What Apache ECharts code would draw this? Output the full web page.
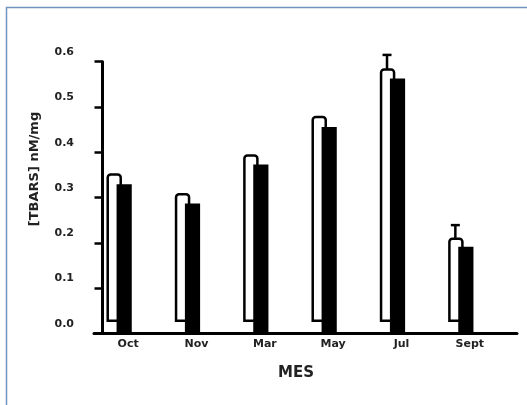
<!DOCTYPE html>
<html>
<head>
<meta charset="utf-8">
<script src="https://cdn.jsdelivr.net/npm/echarts@6/dist/echarts.min.js"></script>
<style>
html,body{margin:0;padding:0;background:#fff;}
#chart{width:527px;height:405px;}
</style>
</head>
<body>
<div id="chart"></div>
<script>
// Data
const months = ['Oct', 'Nov', 'Mar', 'May', 'Jul', 'Sept'];
const whiteValues = [0.351, 0.307, 0.393, 0.478, 0.583, 0.209];
const blackValues = [0.329, 0.287, 0.373, 0.456, 0.563, 0.191];
const whiteErrors = [null, null, null, null, 0.032, 0.030];
const yTickLabels = ['0.0', '0.1', '0.2', '0.3', '0.4', '0.5', '0.6'];

const chart = echarts.init(document.getElementById('chart'));
const FONT = 'DejaVu Sans';

const whiteData = months.map((m, i) => [i, whiteValues[i]]);
const blackData = months.map((m, i) => [i, blackValues[i]]);
const errData = months.map((m, i) => whiteErrors[i] == null ? null : [i, whiteValues[i], whiteValues[i] + whiteErrors[i]]).filter(d => d);

const option = {
  backgroundColor: '#fff',
  animation: false,
  graphic: [{
    type: 'rect',
    shape: { x: 6.5, y: 7.5, width: 1000, height: 1000 },
    style: { fill: 'none', stroke: '#6f94c0', lineWidth: 1.5 },
    silent: true
  }],
  grid: { left: 94, right: 10, top: 61.7, bottom: 71.7 },
  xAxis: {
    type: 'value',
    min: -0.5,
    max: 5.69,
    interval: 0.5,
    splitLine: { show: false },
    axisTick: { show: false },
    axisLine: { onZero: false, lineStyle: { color: '#000', width: 3 } },
    axisLabel: {
      margin: 5,
      fontFamily: FONT, fontWeight: 'bold', fontSize: 11, color: '#222',
      showMinLabel: true, showMaxLabel: true,
      formatter: v => (Number.isInteger(v) && v >= 0 && v < months.length) ? months[v] : ''
    },
    name: 'MES',
    nameLocation: 'middle',
    nameGap: 32,
    nameTextStyle: { fontFamily: FONT, fontWeight: 'bold', fontSize: 15, color: '#222', padding: [0, 19, 0, 0] }
  },
  yAxis: {
    type: 'value',
    min: 0,
    max: 0.6,
    interval: 0.1,
    offset: -8.5,
    splitLine: { show: false },
    axisLine: { show: true, onZero: false, lineStyle: { color: '#000', width: 3 } },
    axisTick: { show: true, inside: false, length: 8, lineStyle: { color: '#000', width: 2.5 } },
    axisLabel: {
      margin: 28.5,
      fontFamily: FONT, fontWeight: 'bold', fontSize: 11, color: '#222',
      verticalAlign: 'bottom',
      lineHeight: 19,
      formatter: (v) => yTickLabels[Math.round(v * 10)]
    },
    name: '[TBARS] nM/mg',
    nameLocation: 'middle',
    nameGap: 61,
    nameTextStyle: { fontFamily: FONT, fontWeight: 'bold', fontSize: 13, color: '#222', padding: [0, 0, 0, 57] }
  },
  series: [
    {
      type: 'custom',
      clip: false,
      data: whiteData,
      encode: { x: 0, y: 1 },
      renderItem: function (params, api) {
        const i = api.value(0), v = api.value(1);
        const p = api.coord([i, v]);
        const b = api.coord([i, 0]);
        return {
          type: 'rect',
          shape: { x: p[0] - 20.45, y: p[1], width: 13, height: (b[1] - 12.5) - p[1], r: [3, 3, 0, 0] },
          style: { fill: '#fff', stroke: '#000', lineWidth: 2.5 }
        };
      }
    },
    {
      type: 'custom',
      clip: false,
      data: blackData,
      encode: { x: 0, y: 1 },
      renderItem: function (params, api) {
        const i = api.value(0), v = api.value(1);
        const p = api.coord([i, v]);
        const b = api.coord([i, 0]);
        return {
          type: 'rect',
          shape: { x: p[0] - 11.6, y: p[1], width: 15.2, height: b[1] - p[1] },
          style: { fill: '#000' }
        };
      }
    },
    {
      type: 'custom',
      clip: false,
      data: errData,
      encode: { x: 0, y: [1, 2] },
      renderItem: function (params, api) {
        const i = api.value(0);
        const lo = api.coord([i, api.value(1)]);
        const hi = api.coord([i, api.value(2)]);
        const cx = lo[0] - 14.5;
        return {
          type: 'group',
          children: [
            { type: 'line', shape: { x1: cx, y1: lo[1], x2: cx, y2: hi[1] }, style: { stroke: '#000', lineWidth: 2.5 } },
            { type: 'line', shape: { x1: cx - 4.5, y1: hi[1], x2: cx + 4.5, y2: hi[1] }, style: { stroke: '#000', lineWidth: 2.5 } }
          ]
        };
      }
    }
  ]
};
chart.setOption(option);
</script>
</body>
</html>
